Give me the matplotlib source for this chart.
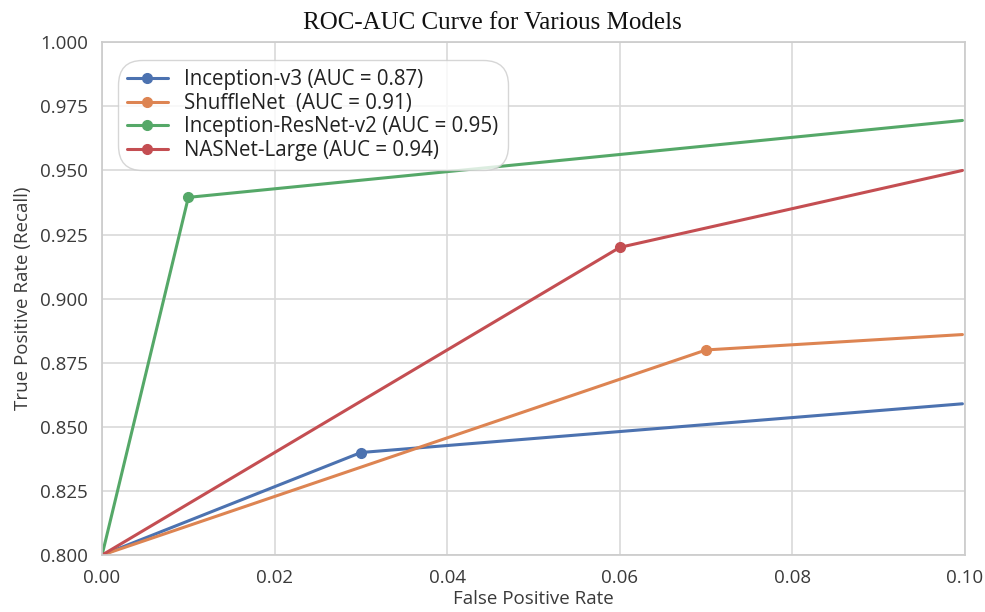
import matplotlib
matplotlib.use("Agg")
import matplotlib.pyplot as plt
import seaborn as sns

sns.set_theme(style="whitegrid")
plt.rcParams['font.family'] = ['Open Sans', 'DejaVu Sans']

models = ["Inception-v3 (AUC = 0.87)", "ShuffleNet  (AUC = 0.91)",
          "Inception-ResNet-v2 (AUC = 0.95)", "NASNet-Large (AUC = 0.94)"]
fpr = [[0.0, 0.03, 0.0997], [0.0, 0.07, 0.0997], [0.0, 0.01, 0.0997], [0.0, 0.06, 0.0997]]
tpr = [[0.800, 0.840, 0.859], [0.800, 0.880, 0.886], [0.800, 0.9395, 0.9695], [0.800, 0.920, 0.950]]
colors = ["#4c72b0", "#dd8452", "#55a868", "#c44e52"]
xticks = [0.00, 0.02, 0.04, 0.06, 0.08, 0.10]
yticks = [0.800, 0.825, 0.850, 0.875, 0.900, 0.925, 0.950, 0.975, 1.000]

fig = plt.figure(figsize=(9.85, 6.12), dpi=100)
ax = fig.add_axes([0.1036, 0.093, 0.8761, 0.838])
for name, x, y, c in zip(models, fpr, tpr, colors):
    ax.plot(x, y, color=c, lw=2.2, marker='o', markersize=7, markevery=[1], label=name)

ax.set_xlim(0, 0.1)
ax.set_ylim(0.8, 1.0)
ax.set_xticks(xticks)
ax.set_yticks(yticks)
ax.set_xticklabels([f"{v:.2f}" for v in xticks])
ax.set_yticklabels([f"{v:.3f}" for v in yticks])
ax.tick_params(labelsize=13.5, colors="#3a3a3a", pad=4)
ax.set_xlabel("False Positive Rate", fontsize=13.5, color="#3a3a3a", labelpad=2)
ax.set_ylabel("True Positive Rate (Recall)", fontsize=13.5, color="#3a3a3a", labelpad=6)
for s in ax.spines.values():
    s.set_color("#cccccc")
ax.grid(color="#d9d9d9", lw=1.2)

leg = ax.legend(loc="upper left", bbox_to_anchor=(0.006, 0.985), fontsize=14.8,
                frameon=True, fancybox=True, framealpha=0.8, edgecolor="#cccccc",
                handlelength=2.0, labelspacing=0.12, borderpad=0.45)
leg.get_frame().set_boxstyle("round", pad=0, rounding_size=1.2)
for t in leg.get_texts():
    t.set_color("#222222")

fig.text(0.5, 0.98, "ROC-AUC Curve for Various Models", ha="center", va="top",
         fontsize=18, family="Liberation Serif", color="#111111")

fig.savefig("out.png", dpi=100)
